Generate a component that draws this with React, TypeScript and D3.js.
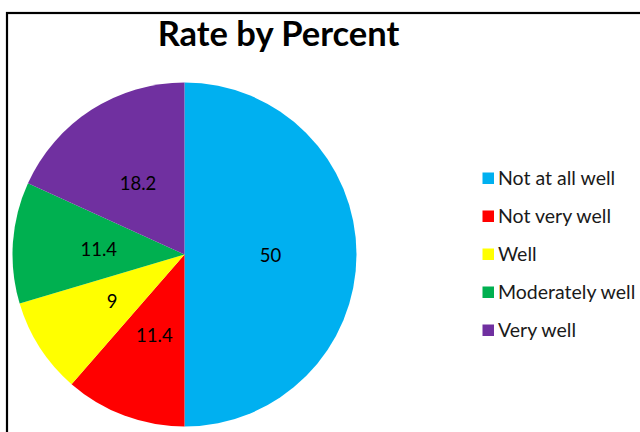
import React from "react";
import * as d3 from "d3";

const categories = ["Not at all well", "Not very well", "Well", "Moderately well", "Very well"];
const values = [50, 11.4, 9, 11.4, 18.2];
const colors = ["#00B0F0", "#FF0000", "#FFFF00", "#00B050", "#7030A0"];
const title = "Rate by Percent";

const W = 640;
const H = 432;
const cx = 184.5;
const cy = 254.5;
const radius = 172;

export default function App() {
  const data = categories.map((c, i) => ({ category: c, value: values[i], color: colors[i] }));
  const pie = d3.pie<any>().value((d) => d.value).sort(null);
  const arcs = pie(data);
  const arc = d3.arc<any>().innerRadius(0).outerRadius(radius);
  const labelArc = d3.arc<any>().innerRadius(radius / 2).outerRadius(radius / 2);

  const legendY = d3.scalePoint<string>().domain(categories).range([178, 330]);

  const font = "Lato, 'Open Sans', sans-serif";

  return (
    <svg width={W} height={H} style={{ position: "absolute", left: 0, top: 0, background: "#fff" }}>
      <rect x={7} y={13} width={700} height={500} fill="#fff" stroke="#000" strokeWidth={2.2} />
      <text x={278.5} y={46} textAnchor="middle" fontFamily={font} fontWeight={700} fontSize={34.5} fill="#000">
        {title}
      </text>
      <g transform={`translate(${cx},${cy})`}>
        {arcs.map((a, i) => (
          <path key={i} d={arc(a) as string} fill={a.data.color} />
        ))}
        {arcs.map((a, i) => {
          const [x, y] = labelArc.centroid(a);
          return (
            <text key={i} x={x} y={y} dy="0.4em" textAnchor="middle" fontFamily={font} fontSize={18.5} fill="#000">
              {a.data.value}
            </text>
          );
        })}
      </g>
      <g>
        {data.map((d) => {
          const y = legendY(d.category) as number;
          return (
            <g key={d.category}>
              <rect x={482.5} y={y - 5.5} width={11.5} height={11.5} fill={d.color} />
              <text x={498} y={y} dy="0.38em" fontFamily={font} fontSize={19.5} fill="#1a1a1a">
                {d.category}
              </text>
            </g>
          );
        })}
      </g>
    </svg>
  );
}
